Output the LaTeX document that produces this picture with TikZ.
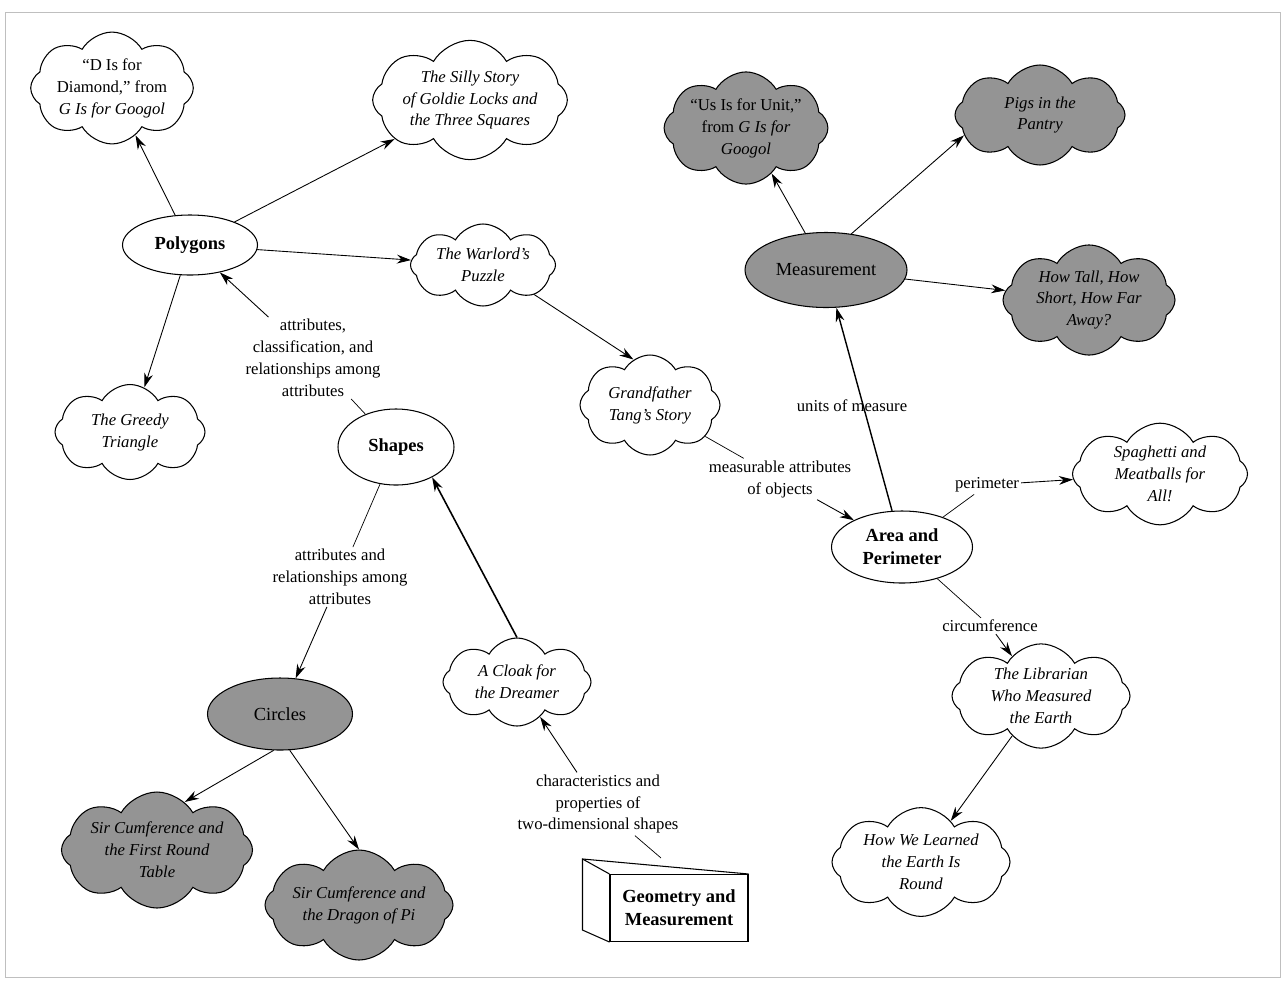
\documentclass[tikz,border=0pt]{standalone}
\usepackage{fontspec}
\setmainfont{Liberation Serif}
\usetikzlibrary{shapes,arrows.meta,positioning,calc}

\tikzset{
  dims/.style 2 args={minimum width=#1*0.02cm, minimum height=#2*0.02cm},
  book/.style={cloud, cloud puffs=8, cloud puff arc=120, cloud ignores aspect, draw, line width=0.6pt,
    fill=white, inner sep=0pt, align=center, font=\fontsize{9.5}{12.5}\selectfont\itshape},
  darkbook/.style={book, fill=black!42},
  topic/.style={ellipse, draw, line width=0.6pt, fill=white, inner sep=1pt, align=center,
    font=\fontsize{10.5}{13}\selectfont\bfseries},
  darktopic/.style={topic, fill=black!42},
  linklabel/.style={fill=white, inner sep=1pt, align=center, font=\fontsize{9.5}{12.5}\selectfont},
  link/.style={-{Stealth[length=8pt,width=5pt]}, line width=0.5pt},
}

\begin{document}
\begin{tikzpicture}[x=0.02cm, y=-0.02cm]
\useasboundingbox (0,0) rectangle (1283,984);
\draw[gray!50] (5,12) rectangle (1280,977);

% Topics
\node[topic, dims={135}{60}] (polygons) at (190,245) {Polygons};
\node[topic, dims={116}{76}] (shapes) at (396,447) {Shapes};
\node[darktopic, dims={162}{75}, font=\fontsize{10.5}{13}\selectfont] (measurement) at (826,270) {Measurement};
\node[topic, dims={141}{72}] (area) at (902,547) {Area and\\Perimeter};
\node[darktopic, dims={145}{72}, font=\fontsize{10.5}{13}\selectfont] (circles) at (280,714) {Circles};
\node[draw, line width=0.6pt, fill=white, dims={138}{67}, align=center,
  font=\fontsize{10.5}{13}\selectfont\bfseries] (geombox) at (679,908) {Geometry and\\Measurement};
\draw[line width=0.6pt] (geombox.north east) -- ($(geombox.north west)+(-27,-15)$)
  -- ($(geombox.south west)+(-27,-12)$) -- (geombox.south west);
\draw[line width=0.6pt] ($(geombox.north west)+(-27,-15)$) -- (geombox.north west);
\coordinate (boxtop) at ($(geombox.north)+(-18,-16)$);

% Books
\node[book, dims={152}{102}, font=\fontsize{9.5}{12.5}\selectfont] (diamond) at (112,88)
  {``D Is for\\Diamond,'' from\\\textit{G Is for Googol}};
\node[book, dims={190}{110}] (silly) at (470,100) {The Silly Story\\of Goldie Locks and\\the Three Squares};
\node[book, dims={145}{82}] (warlord) at (483,265) {The Warlord's\\Puzzle};
\node[book, dims={150}{95}] (greedy) at (130,432) {The Greedy\\Triangle};
\node[book, dims={140}{100}] (grandpa) at (650,405) {Grandfather\\Tang's Story};
\node[darkbook, dims={158}{97}, font=\fontsize{9.5}{12.5}\selectfont] (unit) at (746,128)
  {``Us Is for Unit,''\\from \textit{G Is for}\\\textit{Googol}};
\node[darkbook, dims={170}{100}] (pigs) at (1040,115) {Pigs in the\\Pantry};
\node[darkbook, dims={172}{102}] (howtall) at (1089,300) {How Tall, How\\Short, How Far\\Away?};
\node[book, dims={175}{95}] (spaghetti) at (1160,474) {Spaghetti and\\Meatballs for\\All!};
\node[book, dims={178}{98}] (librarian) at (1041,696) {The Librarian\\Who Measured\\the Earth};
\node[book, dims={178}{101}] (howwe) at (921,862) {How We Learned\\the Earth Is\\Round};
\node[book, dims={148}{88}] (cloak) at (517,682) {A Cloak for\\the Dreamer};
\node[darkbook, dims={190}{116}] (sirround) at (157,850) {Sir Cumference and\\the First Round\\Table};
\node[darkbook, dims={188}{110}] (sirpi) at (359,905) {Sir Cumference and\\the Dragon of Pi};

% Link labels
\node[linklabel] (lblpoly) at (313,358) {attributes,\\classification, and\\relationships among\\attributes};
\node[linklabel] (lblcirc) at (340,577) {attributes and\\relationships among\\attributes};
\node[linklabel] (lblgeo) at (598,804) {characteristics and\\properties of\\two-dimensional shapes};
\node[linklabel] (lblobj) at (780,479) {measurable attributes\\of objects};
\node[linklabel] (lblperim) at (987,485) {perimeter};
\node[linklabel] (lblcircum) at (990,626) {circumference};

% Connectors
\draw[link] (polygons) -- (diamond);
\draw[link] (polygons) -- (silly);
\draw[link] (polygons) -- (warlord);
\draw[link] (polygons) -- (greedy);
\draw[link] (warlord.-30) -- (grandpa.110);
\draw (shapes) -- (lblpoly);
\draw[link] (lblpoly) -- (polygons);
\draw (shapes) -- (lblcirc);
\draw[link] (lblcirc) -- (circles);
\draw[link] (circles.-100) -- (sirround.60);
\draw[link] (circles.-75) -- (sirpi.north);
\draw (boxtop) -- (lblgeo);
\draw[link] (lblgeo) -- (cloak);
\draw[link, line width=0.9pt] (cloak.north) -- (shapes.-40);
\draw (grandpa) -- (lblobj);
\draw[link] (lblobj) -- (area);
\draw[link, line width=0.8pt] (area) -- (measurement);
\node[font=\fontsize{9.5}{12.5}\selectfont] (lblunits) at (852,406) {units of measure};
\draw[link] (measurement) -- (unit);
\draw[link] (measurement.55) -- (pigs.195);
\draw[link] (measurement) -- (howtall);
\draw (area) -- (lblperim);
\draw[link] (lblperim) -- (spaghetti);
\draw (area) -- (lblcircum);
\draw[link] (lblcircum) -- (librarian);
\draw[link] (librarian) -- (howwe);
\end{tikzpicture}
\end{document}
